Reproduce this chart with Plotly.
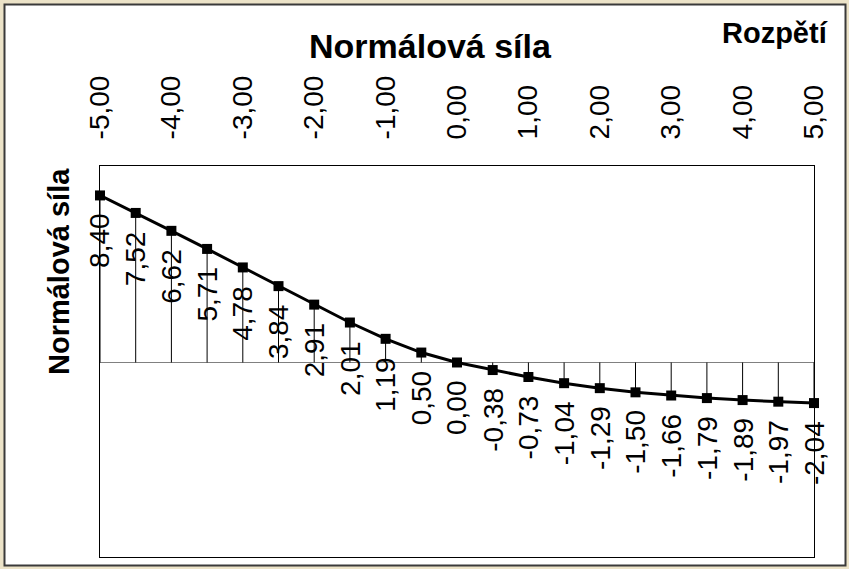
import plotly.graph_objects as go

# Span positions along the member and the normal force at each one
rozpeti = [-5.0, -4.5, -4.0, -3.5, -3.0, -2.5, -2.0, -1.5, -1.0, -0.5, 0.0,
           0.5, 1.0, 1.5, 2.0, 2.5, 3.0, 3.5, 4.0, 4.5, 5.0]
normalova_sila = [8.40, 7.52, 6.62, 5.71, 4.78, 3.84, 2.91, 2.01, 1.19, 0.50, 0.00,
                  -0.38, -0.73, -1.04, -1.29, -1.50, -1.66, -1.79, -1.89, -1.97, -2.04]
x_ticks = [-5, -4, -3, -2, -1, 0, 1, 2, 3, 4, 5]


def cz(v):
    """Czech decimal format with a comma."""
    return f"{v:.2f}".replace(".", ",")


FONT = "Arial, Liberation Sans, sans-serif"
W, H = 849, 569
L, R, T, B = 100, 35, 166, 12
PW, PH = W - L - R, H - T - B

fig = go.Figure()

# thin drop lines from each point down to the zero axis
drop_x, drop_y = [], []
for xv, yv in zip(rozpeti, normalova_sila):
    drop_x += [xv, xv, None]
    drop_y += [0, yv, None]
fig.add_trace(go.Scatter(x=drop_x, y=drop_y, mode="lines",
                         line=dict(color="black", width=1),
                         hoverinfo="skip", showlegend=False, cliponaxis=False))

# the force diagram itself
fig.add_trace(go.Scatter(x=rozpeti, y=normalova_sila, mode="lines+markers",
                         line=dict(color="black", width=3),
                         marker=dict(symbol="square", size=10, color="black"),
                         showlegend=False, cliponaxis=False))

# value labels, rotated, hanging below each point
annotations = []
for xv, yv in zip(rozpeti, normalova_sila):
    annotations.append(dict(x=xv, y=yv, xref="x", yref="y", text=cz(yv),
                            textangle=-90, showarrow=False,
                            xanchor="center", yanchor="top", yshift=-16,
                            font=dict(family=FONT, size=28, color="black")))

annotations += [
    dict(text="<b>Normálová síla</b>", xref="paper", yref="paper",
         x=(430 - L) / PW, y=1 + (T - 46) / PH, xanchor="center", yanchor="middle",
         showarrow=False, font=dict(family=FONT, size=34, color="black")),
    dict(text="<b>Rozpětí</b>", xref="paper", yref="paper",
         x=(775 - L) / PW, y=1 + (T - 33) / PH, xanchor="center", yanchor="middle",
         showarrow=False, font=dict(family=FONT, size=29, color="black")),
    dict(text="<b>Normálová síla</b>", xref="paper", yref="paper",
         x=(59 - L) / PW, y=1 - (272 - T) / PH, xanchor="center", yanchor="middle",
         textangle=-90, showarrow=False,
         font=dict(family=FONT, size=29, color="black")),
]

# outer chart frame
shapes = [dict(type="rect", xref="paper", yref="paper",
               x0=(4.5 - L) / PW, x1=(845.5 - L) / PW,
               y0=-(565.5 - T - PH) / PH, y1=1 + (T - 4.5) / PH,
               line=dict(color="#3a3a3a", width=2), fillcolor="white", layer="below")]

fig.update_layout(
    width=W, height=H,
    margin=dict(l=L, r=R, t=T, b=B),
    paper_bgcolor="#ECE3C8", plot_bgcolor="rgba(0,0,0,0)",
    annotations=annotations, shapes=shapes,
    showlegend=False,
)
fig.update_xaxes(side="top", range=[-5, 5], tickvals=x_ticks,
                 ticktext=[cz(v) for v in x_ticks], tickangle=-90,
                 ticks="", ticklabelstandoff=20,
                 tickfont=dict(family=FONT, size=28, color="black"),
                 showgrid=False, zeroline=False,
                 showline=True, linecolor="black", linewidth=1, mirror=True)
fig.update_yaxes(range=[-9.78, 9.88], showticklabels=False, ticks="",
                 showgrid=False, zeroline=True, zerolinecolor="#808080", zerolinewidth=1,
                 showline=True, linecolor="black", linewidth=1, mirror=True)

fig.write_html("out.html")
